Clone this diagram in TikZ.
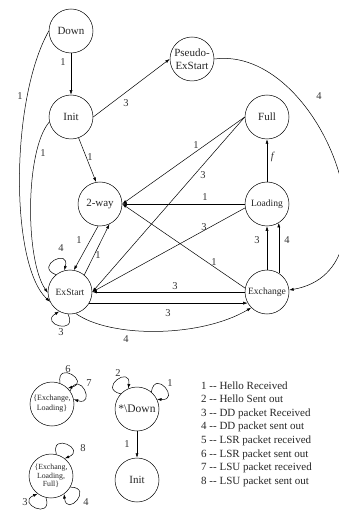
\documentclass[tikz,border=0pt]{standalone}
\usepackage{fontspec}
\setmainfont{Liberation Serif}
\usetikzlibrary{arrows.meta}

% self-loop on a circular state: node, direction (deg), turning sense (+1/-1)
\newcommand\loopon[3]{%
  \pgfmathtruncatemacro\la{mod(#2+12*#3+720,360)}%
  \pgfmathtruncatemacro\lb{mod(#2-12*#3+720,360)}%
  \pgfmathtruncatemacro\lo{#2+42*#3}%
  \pgfmathtruncatemacro\li{#2-42*#3}%
  \draw[arr] (#1.\la) to[out=\lo, in=\li, distance=24pt] (#1.\lb);}

\begin{document}
\begin{tikzpicture}[x=1pt,y=1pt,
  st/.style={draw, circle, minimum size=44pt, inner sep=0pt, align=center, text=black!85, line width=0.5pt},
  big/.style={font=\fontsize{11}{13}\selectfont},
  mid/.style={font=\fontsize{9.6}{11}\selectfont},
  tiny/.style={font=\fontsize{8}{10}\selectfont},
  tinier/.style={font=\fontsize{7.8}{8.6}\selectfont},
  arr/.style={-{Latex[length=4.5pt,width=3pt]}, line width=0.5pt},
  lbl/.style={font=\fontsize{10.5}{12}\selectfont, inner sep=0pt, text=black!80},
  leg/.style={font=\fontsize{11}{13}\selectfont, inner sep=0pt, text=black!85}
]
\path[use as bounding box, fill=white] (0,0) rectangle (338,-510);

% ---- state machine ----
\node[st, big] (down)   at (71,-31)   {Down};
\node[st, big] (init)   at (71,-117)  {Init};
\node[st, big] (pseudo) at (192,-59)  {Pseudo-\\ExStart};
\node[st, big] (full)   at (267,-117) {Full};
\node[st, big] (tw)     at (100,-204) {2-way};
\node[st, mid] (load)   at (267,-204) {Loading};
\node[st, mid] (exst)   at (70,-292)  {ExStart};
\node[st, mid] (exch)   at (267,-292) {Exchange};

\draw[arr] (down) -- (init);
\draw[arr] (down.west) .. controls (10,-100) and (10,-265) .. (exst.206);
\draw[arr] (init.193) .. controls (25,-150) and (25,-260) .. (exst.182);
\draw[arr] (init.east) -- (pseudo.west);
\draw[arr] (init.-70) -- (tw.100);
\draw[arr] (pseudo.east) .. controls (320,-45) and (405,-270) .. (exch.5);
\draw[arr] (load) -- (full);
\draw[arr] (full.west) -- (tw.east);
\draw[arr] (full.west) -- (exst.east);
\draw[arr] (load.west) -- (tw.east);
\draw[arr] (load.190) -- (exst.east);
\draw[arr] (exch.170) -- (tw.east);
\draw[arr, line width=0.9pt] (exch.west) -- (exst.east);
\draw[arr] (exst.-30) -- (exch.-150);
\draw[arr] (exst.-75) .. controls (110,-338) and (200,-338) .. (exch.-135);
\draw[arr] (exch.north) -- (load.south);
\draw[arr] (exch.58) -- (load.-58);
\draw[arr] (tw.-95) -- (exst.80);
\draw[arr] (exst.50) -- (tw.-65);
\loopon{exst}{117}{1}
\loopon{exst}{253}{1}

\node[lbl] (ld1)  at (63,-62)   {1};
\node[lbl] (ld2)  at (20,-96)   {1};
\node[lbl] (li1)  at (43,-153)  {1};
\node[lbl] (li2)  at (90,-157)  {1};
\node[lbl] (li3)  at (126,-103) {3};
\node[lbl] (lp4)  at (319,-96)  {4};
\node[lbl] (llf)  at (273,-157) {\textit{f}};
\node[lbl] (lf1)  at (196,-145) {1};
\node[lbl] (lf3)  at (203,-175) {3};
\node[lbl] (ll1)  at (205,-197) {1};
\node[lbl] (ll3)  at (204,-227) {3};
\node[lbl] (le1)  at (214,-262) {1};
\node[lbl] (le3)  at (175,-286) {3};
\node[lbl] (lx3)  at (168,-313) {3};
\node[lbl] (lx4)  at (126,-339) {4};
\node[lbl] (lel3) at (257,-240) {3};
\node[lbl] (lel4) at (287,-240) {4};
\node[lbl] (lt1)  at (79,-240)  {1};
\node[lbl] (lt2)  at (98,-255)  {1};
\node[lbl] (lo4)  at (61,-248)  {4};
\node[lbl] (lo3)  at (61,-332)  {3};

% ---- packet loops in combined states ----
\node[st, tiny]   (exlo)  at (52,-404)  {\{Exchange,\\Loading\}};
\node[st, tinier] (exlof) at (51,-476)  {\{Exchang,\\Loading,\\Full\}};
\node[st, font=\fontsize{11.5}{13}\selectfont] (sdown) at (137,-409) {*\textbackslash Down};
\node[st, big]    (init2) at (137,-480) {Init};

\draw[arr] (sdown) -- (init2);
\loopon{exlo}{57}{1}
\loopon{exlo}{24}{1}
\loopon{sdown}{125}{1}
\loopon{sdown}{38}{1}
\loopon{exlof}{64}{1}
\loopon{exlof}{245}{1}
\loopon{exlof}{318}{1}

\node[lbl] (lb6) at (68,-369)  {6};
\node[lbl] (lb7) at (89,-383)  {7};
\node[lbl] (lb2) at (118,-373) {2};
\node[lbl] (lb1) at (170,-383) {1};
\node[lbl] (lb8) at (83,-448)  {8};
\node[lbl] (lb3) at (25,-502)  {3};
\node[lbl] (lb4) at (86,-502)  {4};
\node[lbl] (lbi) at (127,-444) {1};

% ---- legend ----
\foreach \t [count=\i] in {Hello Received, Hello Sent out, DD packet Received,
    DD packet sent out, LSR packet received, LSR packet sent out,
    LSU packet received, LSU packet sent out}
  \node[leg, anchor=base west] (leg\i) at (201, {-389-13.65*(\i-1)}) {\i\ -{}- \t};
\end{tikzpicture}
\end{document}
